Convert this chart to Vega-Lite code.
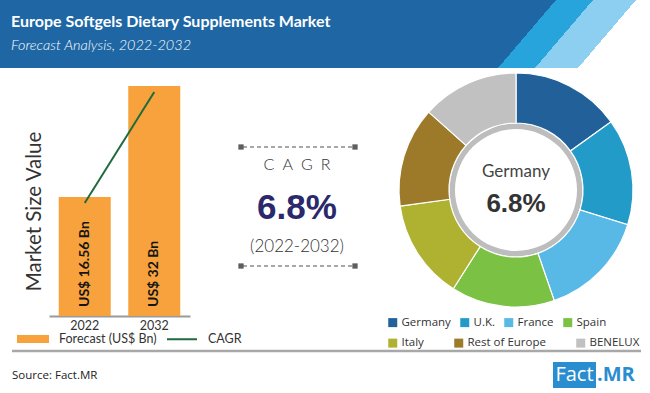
{
  "$schema": "https://vega.github.io/schema/vega-lite/v6.json",
  "width": 650,
  "height": 393,
  "padding": 0,
  "autosize": {"type": "none"},
  "background": "white",
  "config": {"view": {"stroke": null}, "font": "Lato", "axis": {"grid": false}},
  "resolve": {
    "scale": {"x": "independent", "y": "independent", "color": "independent", "theta": "independent"},
    "axis": {"x": "independent", "y": "independent"},
    "legend": {"color": "independent"}
  },
  "layer": [
    {
      "data": {"values": [{"banner": "header"}]},
      "mark": {
        "type": "rect",
        "fill": {
          "gradient": "linear", "x1": 0, "y1": 0, "x2": 1, "y2": 0.0892,
          "stops": [
            {"offset": 0, "color": "#1e67a4"},
            {"offset": 0.8486, "color": "#1e67a4"},
            {"offset": 0.8486, "color": "#27a4db"},
            {"offset": 0.9051, "color": "#27a4db"},
            {"offset": 0.9051, "color": "#8dcff0"},
            {"offset": 0.9707, "color": "#8dcff0"},
            {"offset": 0.9707, "color": "#ffffff"},
            {"offset": 1, "color": "#ffffff"}
          ]
        }
      },
      "encoding": {"x": {"value": 0}, "x2": {"value": 650}, "y": {"value": 0}, "y2": {"value": 68}}
    },
    {
      "data": {"values": [{"text": "Europe Softgels Dietary Supplements Market"}]},
      "mark": {"type": "text", "align": "left", "baseline": "middle", "font": "Lato", "fontWeight": "bold", "fontSize": 16, "color": "#ffffff"},
      "encoding": {"text": {"field": "text"}, "x": {"value": 11}, "y": {"value": 22}}
    },
    {
      "data": {"values": [{"text": "Forecast Analysis, 2022-2032"}]},
      "mark": {"type": "text", "align": "left", "baseline": "middle", "font": "Lato", "fontStyle": "italic", "fontWeight": 300, "fontSize": 14.5, "color": "#ffffff"},
      "encoding": {"text": {"field": "text"}, "x": {"value": 11}, "y": {"value": 46}}
    },
    {
      "data": {"values": [
        {"year": "2022", "value": 16.56, "label": "US$ 16.56 Bn"},
        {"year": "2032", "value": 32, "label": "US$ 32 Bn"}
      ]},
      "encoding": {
        "x": {
          "field": "year", "type": "ordinal",
          "scale": {"type": "band", "range": [49, 190], "paddingInner": 0.252, "paddingOuter": 0.14},
          "axis": {"title": null, "offset": -77, "labelAngle": 0, "domainColor": "#9a9a9a", "domainWidth": 2, "ticks": false, "labelFont": "Lato", "labelFontSize": 12.5, "labelColor": "#333333", "labelPadding": 3}
        },
        "y": {
          "field": "value", "type": "quantitative",
          "scale": {"domain": [0, 32], "range": [316, 86], "nice": false},
          "axis": {"title": "Market Size Value", "offset": -48, "domain": false, "ticks": false, "labels": false, "grid": false, "titleFont": "Lato", "titleFontSize": 20.5, "titleFontWeight": "normal", "titleColor": "#333333", "titlePadding": 4, "titleY": 211}
        }
      },
      "layer": [
        {
          "mark": {"type": "bar"},
          "encoding": {
            "color": {
              "datum": "Forecast (US$ Bn)",
              "scale": {"domain": ["Forecast (US$ Bn)", "CAGR"], "range": ["#f7a23d", "#1f6b3c"]},
              "legend": {
                "title": null, "orient": "none", "legendX": 17, "legendY": 323, "direction": "horizontal",
                "padding": 0, "symbolSize": 900, "labelFont": "Lato", "labelFontSize": 12.5, "labelColor": "#333333",
                "labelOffset": 10, "columnPadding": 6,
                "encode": {
                  "symbols": {
                    "update": {
                      "shape": {"signal": "datum.value === 'CAGR' ? 'stroke' : 'M-1,-0.2H1V0.2H-1Z'"},
                      "fill": {"signal": "datum.value === 'CAGR' ? 'transparent' : '#f7a23d'"},
                      "stroke": {"signal": "datum.value === 'CAGR' ? '#1f6b3c' : 'transparent'"},
                      "strokeWidth": {"value": 2},
                      "opacity": {"value": 1}
                    }
                  }
                }
              }
            }
          }
        },
        {
          "mark": {"type": "text", "angle": 270, "align": "left", "baseline": "middle", "dx": 9, "font": "Lato", "fontWeight": "bold", "fontSize": 14, "color": "#151515"},
          "encoding": {"y": {"datum": 0, "type": "quantitative"}, "text": {"field": "label"}}
        },
        {
          "mark": {"type": "line", "strokeWidth": 2, "yOffset": 6},
          "encoding": {"color": {"datum": "CAGR"}}
        }
      ]
    },
    {
      "data": {"values": [{"metric": "CAGR", "value": "6.8%", "period": "(2022-2032)"}]},
      "layer": [
        {"mark": {"type": "rule", "strokeDash": [4, 3], "color": "#8a8a8a", "strokeWidth": 1.3}, "encoding": {"x": {"value": 243}, "x2": {"value": 353}, "y": {"value": 147}}},
        {"mark": {"type": "rule", "strokeDash": [4, 3], "color": "#8a8a8a", "strokeWidth": 1.3}, "encoding": {"x": {"value": 243}, "x2": {"value": 353}, "y": {"value": 266}}},
        {"mark": {"type": "square", "size": 28, "color": "#5e5e5e", "opacity": 1}, "encoding": {"x": {"value": 241}, "y": {"value": 147}}},
        {"mark": {"type": "square", "size": 28, "color": "#5e5e5e", "opacity": 1}, "encoding": {"x": {"value": 355}, "y": {"value": 147}}},
        {"mark": {"type": "square", "size": 28, "color": "#5e5e5e", "opacity": 1}, "encoding": {"x": {"value": 241}, "y": {"value": 266}}},
        {"mark": {"type": "square", "size": 28, "color": "#5e5e5e", "opacity": 1}, "encoding": {"x": {"value": 355}, "y": {"value": 266}}},
        {"mark": {"type": "text", "align": "center", "baseline": "middle", "font": "Lato", "fontWeight": 300, "fontSize": 16, "color": "#333333"}, "encoding": {"text": {"value": "C\u2002A\u2002G\u2002R"}, "x": {"value": 297}, "y": {"value": 165}}},
        {"mark": {"type": "text", "align": "center", "baseline": "middle", "font": "Liberation Sans", "fontWeight": "bold", "fontSize": 35, "color": "#29296b"}, "encoding": {"text": {"field": "value"}, "x": {"value": 297}, "y": {"value": 208}}},
        {"mark": {"type": "text", "align": "center", "baseline": "middle", "font": "Lato", "fontWeight": 300, "fontSize": 17, "color": "#333333"}, "encoding": {"text": {"field": "period"}, "x": {"value": 297}, "y": {"value": 247}}}
      ]
    },
    {
      "data": {"values": [{"ring": "center"}]},
      "mark": {"type": "arc", "outerRadius": 67, "innerRadius": 61, "theta": 0, "theta2": 6.2832, "fill": "#bdbdbd"},
      "encoding": {"x": {"value": 516}, "y": {"value": 190}}
    },
    {
      "data": {"values": [
        {"region": "Germany", "share": 15.1, "rank": 1},
        {"region": "U.K.", "share": 14.7, "rank": 2},
        {"region": "France", "share": 14.9, "rank": 3},
        {"region": "Spain", "share": 14.3, "rank": 4},
        {"region": "Italy", "share": 13.8, "rank": 5},
        {"region": "Rest of Europe", "share": 13.8, "rank": 6},
        {"region": "BENELUX", "share": 13.4, "rank": 7}
      ]},
      "mark": {"type": "arc", "outerRadius": 117, "innerRadius": 67, "stroke": "#ffffff", "strokeWidth": 1.2},
      "encoding": {
        "x": {"value": 516}, "y": {"value": 190},
        "theta": {"field": "share", "type": "quantitative", "stack": true},
        "order": {"field": "rank", "type": "quantitative"},
        "color": {
          "field": "region", "type": "nominal",
          "scale": {"domain": ["Germany", "U.K.", "France", "Spain", "Italy", "Rest of Europe", "BENELUX"], "range": ["#22609a", "#229bc9", "#58b8e6", "#7bc143", "#afb130", "#9c7a2a", "#c1c1c1"]},
          "legend": {"title": null, "orient": "none", "legendX": 387, "legendY": 316.5, "direction": "horizontal", "padding": 0, "values": ["Germany", "U.K.", "France", "Spain"], "symbolType": "square", "symbolSize": 81, "symbolStrokeWidth": 0, "labelFont": "Open Sans", "labelFontSize": 11.5, "labelColor": "#333333", "labelOffset": 3, "columnPadding": 8}
        }
      }
    },
    {
      "data": {"values": [
        {"region": "Germany", "share": 15.1, "rank": 1},
        {"region": "U.K.", "share": 14.7, "rank": 2},
        {"region": "France", "share": 14.9, "rank": 3},
        {"region": "Spain", "share": 14.3, "rank": 4},
        {"region": "Italy", "share": 13.8, "rank": 5},
        {"region": "Rest of Europe", "share": 13.8, "rank": 6},
        {"region": "BENELUX", "share": 13.4, "rank": 7}
      ]},
      "mark": {"type": "arc", "outerRadius": 117, "innerRadius": 67, "stroke": "#ffffff", "strokeWidth": 1.2},
      "encoding": {
        "x": {"value": 516}, "y": {"value": 190},
        "theta": {"field": "share", "type": "quantitative", "stack": true},
        "order": {"field": "rank", "type": "quantitative"},
        "color": {
          "field": "region", "type": "nominal",
          "scale": {"domain": ["Germany", "U.K.", "France", "Spain", "Italy", "Rest of Europe", "BENELUX"], "range": ["#22609a", "#229bc9", "#58b8e6", "#7bc143", "#afb130", "#9c7a2a", "#c1c1c1"]},
          "legend": {"title": null, "orient": "none", "legendX": 387, "legendY": 337, "direction": "horizontal", "padding": 0, "values": ["Italy", "Rest of Europe", "BENELUX"], "symbolType": "square", "symbolSize": 81, "symbolStrokeWidth": 0, "labelFont": "Open Sans", "labelFontSize": 11.5, "labelColor": "#333333", "labelOffset": 3, "columnPadding": 29}
        }
      }
    },
    {
      "data": {"values": [{"region": "Germany", "cagr": "6.8%"}]},
      "layer": [
        {"mark": {"type": "text", "align": "center", "baseline": "middle", "font": "Lato", "fontSize": 17, "color": "#444444"}, "encoding": {"text": {"field": "region"}, "x": {"value": 516}, "y": {"value": 172}}},
        {"mark": {"type": "text", "align": "center", "baseline": "middle", "font": "Liberation Sans", "fontWeight": "bold", "fontSize": 26, "color": "#333333"}, "encoding": {"text": {"field": "cagr"}, "x": {"value": 516}, "y": {"value": 204}}}
      ]
    },
    {
      "data": {"values": [{"separator": "footer"}]},
      "mark": {"type": "rule", "color": "#a8a8a8", "strokeWidth": 2.5},
      "encoding": {"x": {"value": 12}, "x2": {"value": 641}, "y": {"value": 351}}
    },
    {
      "data": {"values": [{"source": "Source: Fact.MR", "brand": "Fact", "suffix": ".MR"}]},
      "layer": [
        {"mark": {"type": "text", "align": "left", "baseline": "middle", "font": "Open Sans", "fontSize": 11.5, "color": "#222222"}, "encoding": {"text": {"field": "source"}, "x": {"value": 12}, "y": {"value": 376}}},
        {"mark": {"type": "rect", "color": "#2a8dcf"}, "encoding": {"x": {"value": 553}, "x2": {"value": 596}, "y": {"value": 362}, "y2": {"value": 388}}},
        {"mark": {"type": "text", "align": "center", "baseline": "middle", "font": "Open Sans", "fontSize": 20, "color": "#ffffff"}, "encoding": {"text": {"field": "brand"}, "x": {"value": 574.5}, "y": {"value": 375}}},
        {"mark": {"type": "text", "align": "left", "baseline": "middle", "font": "Open Sans", "fontWeight": "bold", "fontSize": 20, "color": "#2a8dcf"}, "encoding": {"text": {"field": "suffix"}, "x": {"value": 597}, "y": {"value": 375}}}
      ]
    }
  ]
}
